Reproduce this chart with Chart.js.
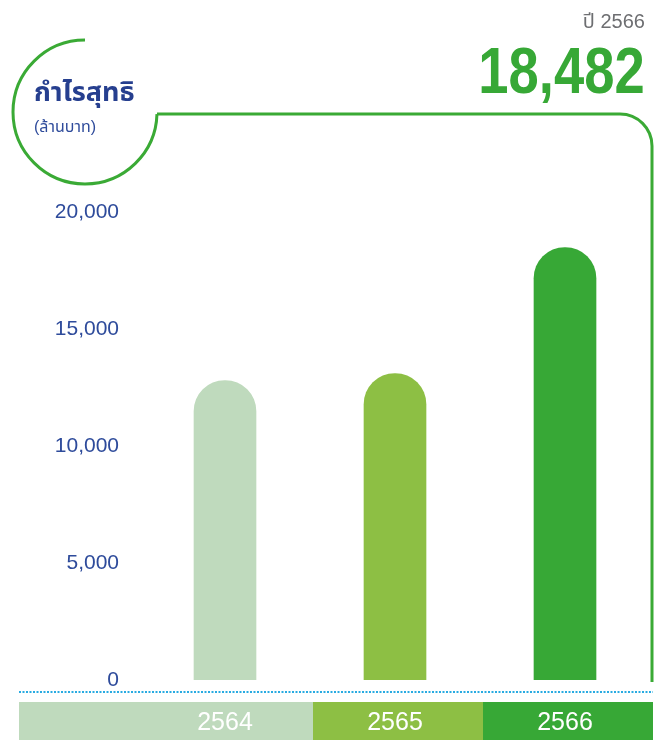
<!DOCTYPE html>
<html>
<head>
<meta charset="utf-8">
<script src="https://cdn.jsdelivr.net/npm/chart.js@4/dist/chart.umd.min.js"></script>
<style>
  body { margin: 0; background: #fff; }
  #wrap { position: relative; width: 662px; height: 740px; }
  #wrap canvas { position: absolute; left: 0; top: 0; }
  .txt { position: absolute; white-space: nowrap; font-family: "Liberation Sans", Arial, "Noto Sans Thai", "Noto Sans", sans-serif; }
  #year { right: 17px; top: 9px; font-size: 20px; line-height: 24px; color: #6d6e71; }
  #total { right: 17px; top: 39px; font-size: 64px; line-height: 64px; font-weight: bold; color: #37a836; transform: scaleX(0.85); transform-origin: right center; }
  #title { left: 34px; top: 75px; font-size: 27px; line-height: 34px; font-weight: bold; color: #263f8f; }
  #unit { left: 34px; top: 116px; font-size: 16px; line-height: 22px; color: #2e4b9b; }
</style>
</head>
<body>
<div id="wrap">
  <canvas id="c" width="662" height="740"></canvas>
  <div class="txt" id="year">ปี 2566</div>
  <div class="txt" id="total">18,482</div>
  <div class="txt" id="title">กำไรสุทธิ</div>
  <div class="txt" id="unit">(ล้านบาท)</div>
</div>
<script>
const years = ['2564', '2565', '2566'];
const profit = [12800, 13100, 18482];
const barColors = ['#bfdabd', '#8dbf44', '#37a836'];
const yTicks = [0, 5000, 10000, 15000, 20000];

const green = '#3aaa35';

// circle, frame line, dotted base line and the coloured year strip
const decor = {
    id: 'decor',
    beforeDraw(chart) {
        const ctx = chart.ctx;
        const x = chart.scales.x;
        const area = chart.chartArea;
        ctx.save();

        ctx.strokeStyle = green;
        ctx.lineWidth = 3;
        ctx.beginPath();
        ctx.arc(85, 112, 72, -Math.PI / 2, 0.03, true);
        ctx.stroke();

        ctx.beginPath();
        ctx.moveTo(157, 114);
        ctx.lineTo(620, 114);
        ctx.arcTo(652, 114, 652, 146, 32);
        ctx.lineTo(652, area.bottom + 2);
        ctx.stroke();

        ctx.strokeStyle = '#29abe2';
        ctx.lineWidth = 2;
        ctx.setLineDash([2, 1.5]);
        ctx.beginPath();
        ctx.moveTo(19, area.bottom + 12);
        ctx.lineTo(653, area.bottom + 12);
        ctx.stroke();
        ctx.setLineDash([]);

        // strip segments split a little right of the midpoints between years
        const edges = [19];
        for (let i = 0; i < years.length - 1; i++) {
            edges.push((x.getPixelForValue(i) + x.getPixelForValue(i + 1)) / 2 + 3);
        }
        edges.push(653);
        for (let i = 0; i < years.length; i++) {
            ctx.fillStyle = barColors[i];
            ctx.fillRect(edges[i], area.bottom + 22, edges[i + 1] - edges[i], 40);
        }
        ctx.restore();
    }
};

const chart = new Chart(document.getElementById('c'), {
    type: 'bar',
    data: {
        labels: years,
        datasets: [{
            data: profit,
            backgroundColor: barColors,
            barThickness: 62,
            borderRadius: { topLeft: 31, topRight: 31 },
            borderSkipped: 'start'
        }]
    },
    options: {
        responsive: false,
        animation: false,
        events: [],
        layout: { padding: { top: 212, right: 12, left: 0, bottom: 0 } },
        plugins: {
            legend: { display: false },
            tooltip: { enabled: false }
        },
        scales: {
            x: {
                grid: { display: false },
                border: { display: false },
                ticks: {
                    color: '#ffffff',
                    padding: 20,
                    font: { family: '"Liberation Sans", Arial, sans-serif', size: 25 }
                },
                afterFit: s => { s.height = 60; }
            },
            y: {
                min: 0,
                max: 20000,
                grid: { display: false },
                border: { display: false },
                afterBuildTicks: s => { s.ticks = yTicks.map(v => ({ value: v })); },
                afterFit: s => { s.width = 140; },
                ticks: {
                    color: '#2e4b9b',
                    padding: 13,
                    font: { family: '"Liberation Sans", Arial, sans-serif', size: 21 },
                    callback: v => v.toLocaleString('en-US')
                }
            }
        }
    },
    plugins: [decor]
});
</script>
</body>
</html>
